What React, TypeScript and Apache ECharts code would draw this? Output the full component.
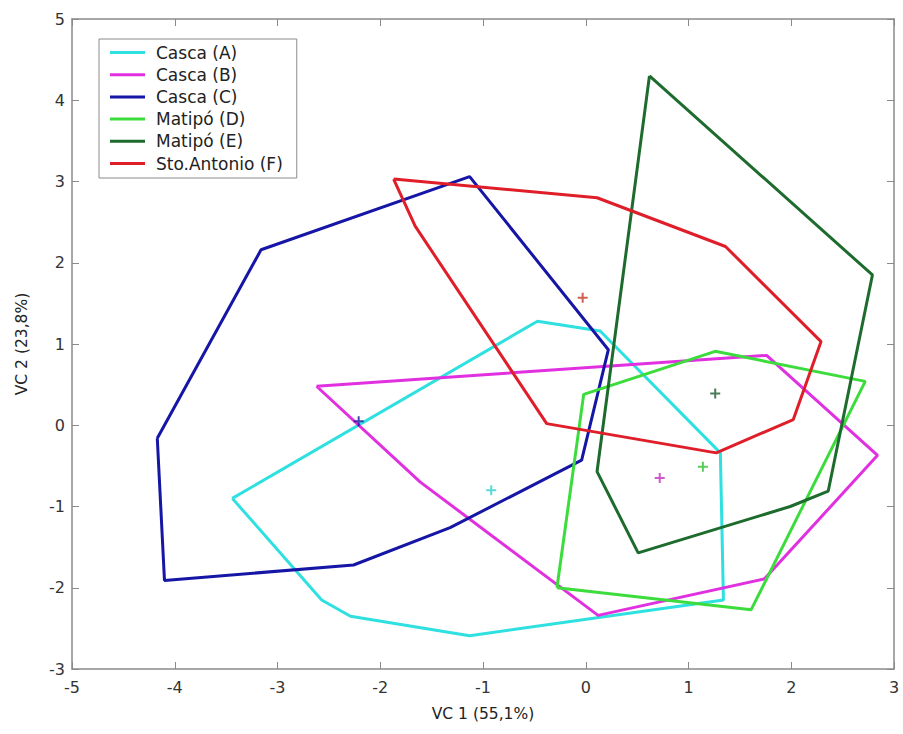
import React, { useEffect, useRef } from "react";
import * as echarts from "echarts";

const seriesNames = ["Casca (A)", "Casca (B)", "Casca (C)", "Matipó (D)", "Matipó (E)", "Sto.Antonio (F)"];
const seriesColors = ["#2fe0e0", "#e030e0", "#1616a6", "#3ddc3d", "#1e6b2e", "#e01e2a"];
const markerColors = ["#2fd0d0", "#c030c0", "#14149e", "#30c030", "#1e5b2e", "#c03a20"];

const cascaA: number[][] = [[-3.44, -0.9], [-2.57, -2.15], [-2.29, -2.35], [-1.13, -2.59], [1.34, -2.15], [1.31, -0.34], [0.14, 1.16], [-0.47, 1.28]];
const cascaB: number[][] = [[-2.62, 0.48], [1.76, 0.86], [2.84, -0.37], [1.74, -1.89], [0.12, -2.34], [-1.61, -0.7]];
const cascaC: number[][] = [[-4.17, -0.16], [-4.1, -1.91], [-2.26, -1.72], [-1.32, -1.26], [-0.04, -0.43], [0.22, 0.93], [-1.13, 3.06], [-3.16, 2.16]];
const matipoD: number[][] = [[-0.28, -2.0], [1.61, -2.27], [2.72, 0.54], [1.26, 0.91], [-0.02, 0.38]];
const matipoE: number[][] = [[0.62, 4.3], [2.79, 1.85], [2.36, -0.81], [1.99, -1.0], [0.51, -1.57], [0.11, -0.57]];
const stoAntonioF: number[][] = [[-1.87, 3.03], [0.11, 2.8], [1.36, 2.2], [2.29, 1.03], [2.02, 0.07], [1.27, -0.34], [-0.38, 0.02], [-1.66, 2.45]];

const centroids: number[][] = [[-0.92, -0.8], [0.72, -0.65], [-2.21, 0.05], [1.14, -0.51], [1.26, 0.39], [-0.03, 1.57]];

const xTitle = "VC 1 (55,1%)";
const yTitle = "VC 2 (23,8%)";

const polygons = [cascaA, cascaB, cascaC, matipoD, matipoE, stoAntonioF];

const AXIS_COLOR = "#8a8a8a";
const FONT = "DejaVu Sans";

export default function App() {
  const ref = useRef<HTMLDivElement>(null);
  useEffect(() => {
    if (!ref.current) return;
    const chart = echarts.init(ref.current, undefined, { renderer: "svg" });

    const lineSeries = polygons.map((pts, i) => ({
      name: seriesNames[i],
      type: "line",
      xAxisIndex: 0,
      yAxisIndex: 0,
      data: [...pts, pts[0]],
      symbol: "none",
      showSymbol: false,
      lineStyle: { color: seriesColors[i], width: 3 },
      itemStyle: { color: seriesColors[i] },
      z: 2 + i,
    }));
    const markerSeries = centroids.map((c, i) => ({
      name: seriesNames[i],
      type: "scatter",
      xAxisIndex: 0,
      yAxisIndex: 0,
      data: [c],
      symbol: "path://M4,0H6V4H10V6H6V10H4V6H0V4H4Z",
      symbolSize: 10,
      itemStyle: { color: markerColors[i] },
      z: 10,
    }));

    const baseAxisLine = { show: true, onZero: false, lineStyle: { color: AXIS_COLOR, width: 1.5 } };
    const baseTick = { show: true, inside: true, length: 7, lineStyle: { color: AXIS_COLOR, width: 1 } };
    const labelStyle = { color: "#333", fontSize: 16, fontFamily: FONT };

    chart.setOption({
      animation: false,
      backgroundColor: "#fff",
      grid: { left: 72, right: 9, top: 19, bottom: 65, containLabel: false },
      legend: {
        orient: "vertical",
        left: 99,
        top: 39,
        padding: [5, 14, 6, 11],
        borderColor: AXIS_COLOR,
        borderWidth: 1,
        backgroundColor: "#fff",
        icon: "rect",
        itemWidth: 35,
        itemHeight: 3,
        itemGap: 5.2,
        data: seriesNames.map((n, i) => ({ name: n, itemStyle: { color: seriesColors[i] } })),
        textStyle: { color: "#222", fontSize: 17, fontFamily: FONT, lineHeight: 17, padding: [0, 0, 0, 6] },
      },
      xAxis: [
        {
          type: "value",
          position: "bottom",
          min: -5,
          max: 3,
          interval: 1,
          axisLine: baseAxisLine,
          axisTick: baseTick,
          splitLine: { show: false },
          axisLabel: { ...labelStyle, margin: 10 },
          name: xTitle,
          nameLocation: "middle",
          nameGap: 37,
          nameTextStyle: { color: "#222", fontSize: 15.5, fontFamily: FONT },
        },
        {
          type: "value",
          position: "top",
          min: -5,
          max: 3,
          interval: 1,
          axisLine: baseAxisLine,
          axisTick: baseTick,
          splitLine: { show: false },
          axisLabel: { show: false },
        },
      ],
      yAxis: [
        {
          type: "value",
          position: "left",
          min: -3,
          max: 5,
          interval: 1,
          axisLine: baseAxisLine,
          axisTick: baseTick,
          splitLine: { show: false },
          axisLabel: { ...labelStyle, margin: 7 },
          name: yTitle,
          nameLocation: "middle",
          nameGap: 42,
          nameTextStyle: { color: "#222", fontSize: 15.5, fontFamily: FONT },
        },
        {
          type: "value",
          position: "right",
          min: -3,
          max: 5,
          interval: 1,
          axisLine: baseAxisLine,
          axisTick: baseTick,
          splitLine: { show: false },
          axisLabel: { show: false },
        },
      ],
      series: [...lineSeries, ...markerSeries],
    });
    return () => chart.dispose();
  }, []);
  return (
    <div
      ref={ref}
      style={{ position: "fixed", left: 0, top: 0, width: 903, height: 734, background: "#fff" }}
    />
  );
}
